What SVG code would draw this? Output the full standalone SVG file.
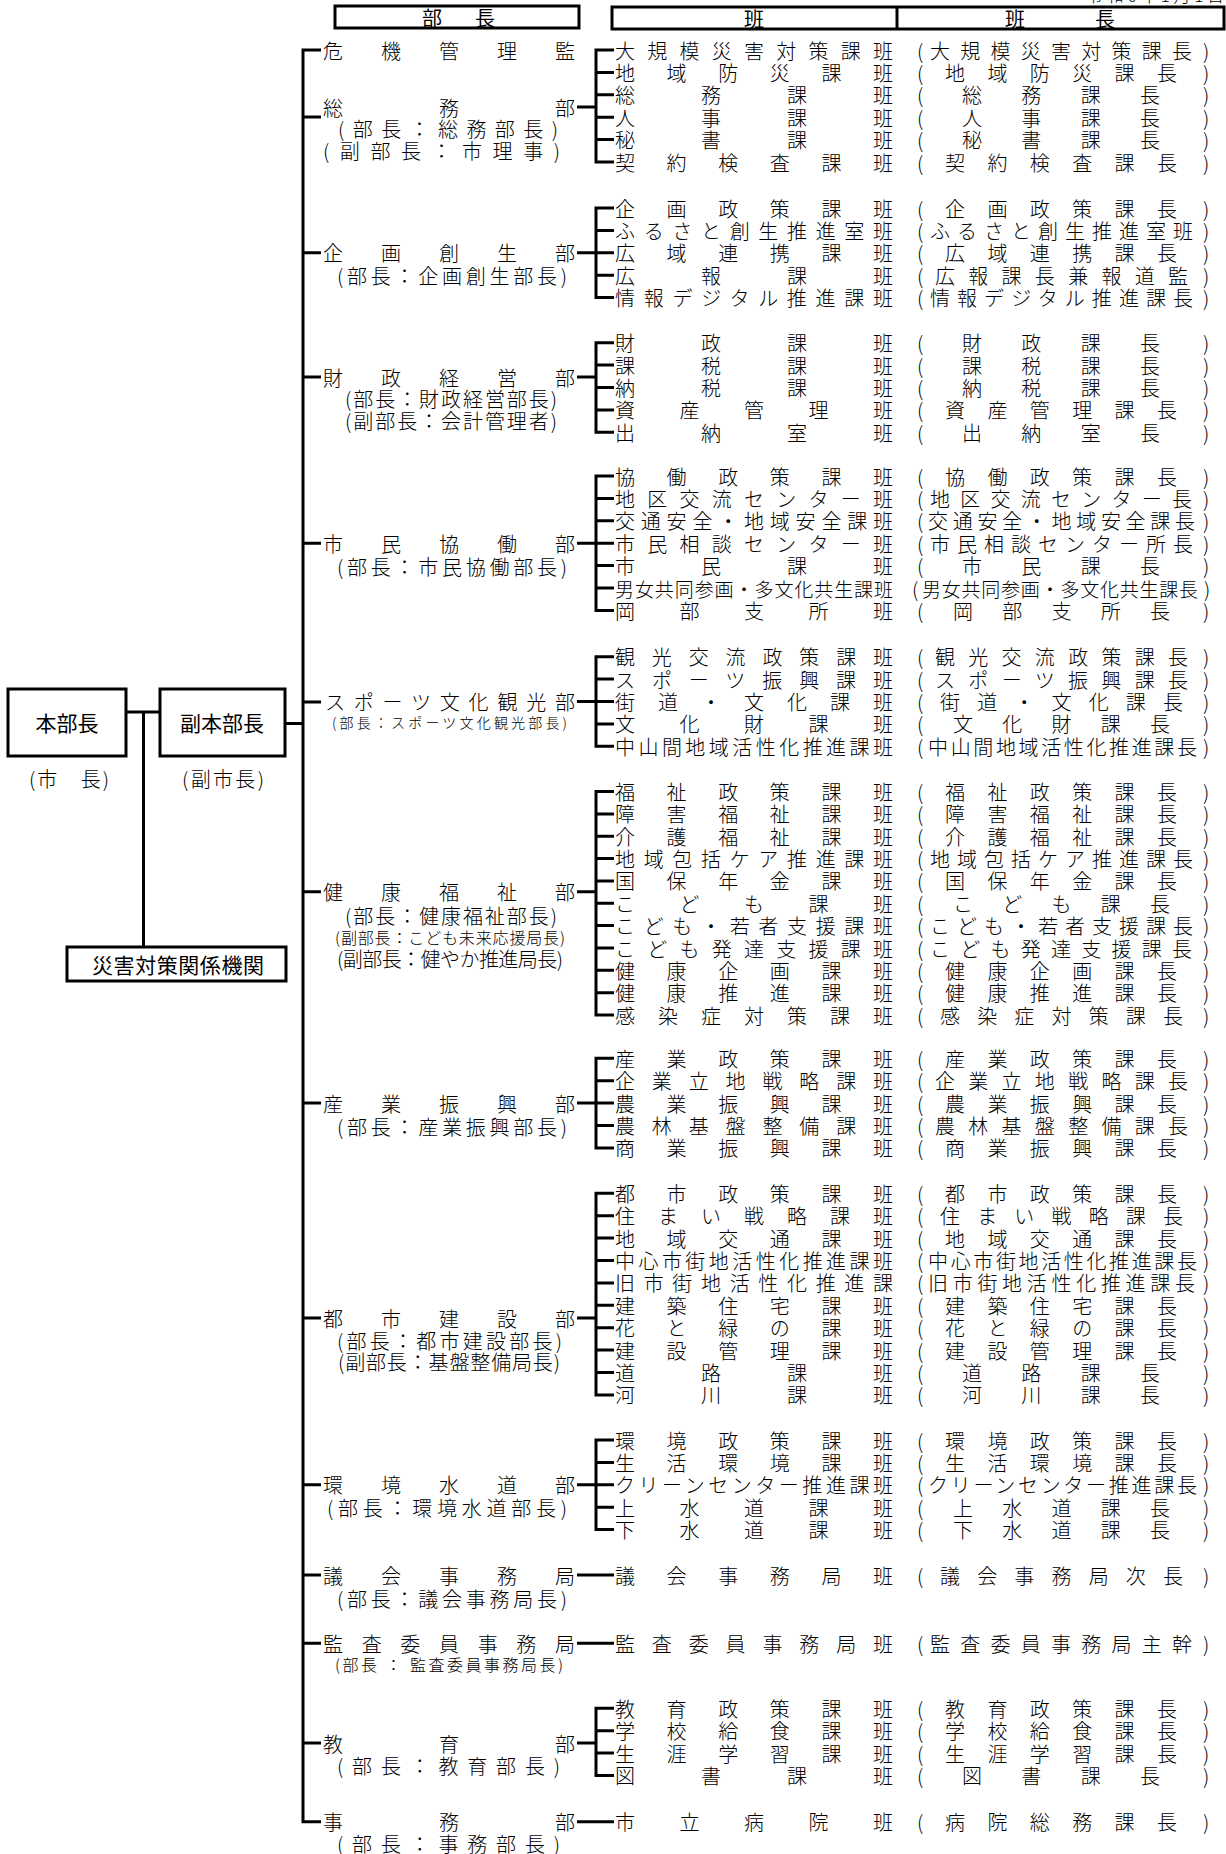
<svg xmlns="http://www.w3.org/2000/svg" width="1226" height="1854" viewBox="0 0 1226 1854">
<style>
text{font-family:"Noto Sans CJK JP","Noto Sans CJK SC",sans-serif;font-size:20px;font-weight:300;fill:#000;dominant-baseline:central}
.hd{font-weight:400}
.sm{font-size:14px}
.md{font-size:16px}
.lg{font-size:21px;font-weight:400}
.dt{font-size:17px;dominant-baseline:auto}
.ln{fill:none;stroke:#000;stroke-width:3}
.box{fill:#fff;stroke:#000;stroke-width:3}
</style>
<rect width="1226" height="1854" fill="#fff"/>
<text class="dt" x="1086" y="2" textLength="138">令和6年1月1日</text>

<g id="header">
<rect class="box" x="335" y="6" width="244" height="22"/>
<text class="hd" x="422" y="17" textLength="73">部長</text>
<rect class="box" x="612" y="7" width="612" height="22"/>
<line class="ln" x1="897" y1="7" x2="897" y2="29"/>
<text class="hd" x="754" y="18" text-anchor="middle">班</text>
<text class="hd" x="1005" y="18" textLength="110">班長</text>
</g>

<g id="honbucho">
<rect class="box" x="8" y="689" width="118" height="67"/>
<text class="lg" x="67" y="722" text-anchor="middle">本部長</text>
<text x="29" y="778" textLength="80">(市　長)</text>
</g>
<g id="fukuhonbucho">
<rect class="box" x="160" y="689" width="125" height="67"/>
<text class="lg" x="222" y="722" text-anchor="middle">副本部長</text>
<text x="182" y="778" textLength="82">(副市長)</text>
</g>
<g id="kankei">
<rect class="box" x="67" y="947" width="219" height="34"/>
<text class="lg" x="92" y="964" textLength="172">災害対策関係機関</text>
</g>

<g id="connectors">
<path class="ln" d="M126,712 H160 M143.5,712 V947 M285,723.5 H303"/>
<path class="ln" d="M321,50 H303 V1821.7 H321 M303,117 H321 M303,252.8 H321 M303,377 H321 M303,543.2 H321 M303,702 H321 M303,891.7 H321 M303,1103.1 H321 M303,1318 H321 M303,1484.8 H321 M303,1575 H321 M303,1643.3 H321 M303,1743 H321"/>
<path class="ln" d="M614,50 H596 V162 H614 M596,72.4 H614 M596,94.8 H614 M596,117.2 H614 M596,139.6 H614 M577,107 H596"/>
<path class="ln" d="M614,208 H596 V297.6 H614 M596,230.4 H614 M596,252.8 H614 M596,275.2 H614 M577,252.8 H596"/>
<path class="ln" d="M614,342.7 H596 V432.3 H614 M596,365.1 H614 M596,387.5 H614 M596,409.9 H614 M577,377 H596"/>
<path class="ln" d="M614,476 H596 V610.4 H614 M596,498.4 H614 M596,520.8 H614 M596,543.2 H614 M596,565.6 H614 M596,588 H614 M577,543.2 H596"/>
<path class="ln" d="M614,656.7 H596 V746.3 H614 M596,679.1 H614 M596,701.5 H614 M596,723.9 H614 M577,701.5 H596"/>
<path class="ln" d="M614,791.5 H596 V1015 H614 M596,813.9 H614 M596,836.2 H614 M596,858.6 H614 M596,880.9 H614 M596,903.3 H614 M596,925.6 H614 M596,948 H614 M596,970.3 H614 M596,992.7 H614 M577,891.7 H596"/>
<path class="ln" d="M614,1058.3 H596 V1147.9 H614 M596,1080.7 H614 M596,1103.1 H614 M596,1125.5 H614 M577,1103.1 H596"/>
<path class="ln" d="M614,1193.3 H596 V1394.9 H614 M596,1215.7 H614 M596,1238.1 H614 M596,1260.5 H614 M596,1282.9 H614 M596,1305.3 H614 M596,1327.7 H614 M596,1350.1 H614 M596,1372.5 H614 M577,1318 H596"/>
<path class="ln" d="M614,1440 H596 V1529.6 H614 M596,1462.4 H614 M596,1484.8 H614 M596,1507.2 H614 M577,1484.8 H596"/>
<path class="ln" d="M577,1575 H614 M577,1643.3 H614 M577,1821.7 H614"/>
<path class="ln" d="M614,1708.3 H596 V1775.5 H614 M596,1730.7 H614 M596,1753.1 H614 M577,1743 H596"/>
</g>

<g id="depts">
<g id="d-kiki"><text x="323" y="50" textLength="252">危機管理監</text></g>
<g id="d-somu"><text x="323" y="107" textLength="252">総務部</text>
<text x="338" y="128" textLength="220">(部長：総務部長)</text>
<text x="323" y="150" textLength="237">(副部長：市理事)</text></g>
<g id="d-kikaku"><text x="323" y="252.8" textLength="252">企画創生部</text>
<text x="337" y="275" textLength="230">(部長：企画創生部長)</text></g>
<g id="d-zaisei"><text x="323" y="377" textLength="252">財政経営部</text>
<text x="345" y="398" textLength="212">(部長：財政経営部長)</text>
<text x="345" y="420" textLength="212">(副部長：会計管理者)</text></g>
<g id="d-shimin"><text x="323" y="543.2" textLength="252">市民協働部</text>
<text x="337" y="566" textLength="230">(部長：市民協働部長)</text></g>
<g id="d-sports"><text x="325" y="701.5" textLength="250">スポーツ文化観光部</text>
<text class="sm" x="332" y="722" textLength="235">(部長：スポーツ文化観光部長)</text></g>
<g id="d-kenko"><text x="323" y="891.7" textLength="252">健康福祉部</text>
<text x="345" y="915" textLength="212">(部長：健康福祉部長)</text>
<text class="md" x="335" y="936.7" textLength="230">(副部長：こども未来応援局長)</text>
<text x="337" y="958.3" textLength="226">(副部長：健やか推進局長)</text></g>
<g id="d-sangyo"><text x="323" y="1103.1" textLength="252">産業振興部</text>
<text x="337" y="1126" textLength="230">(部長：産業振興部長)</text></g>
<g id="d-toshi"><text x="323" y="1318" textLength="252">都市建設部</text>
<text x="337" y="1340" textLength="225">(部長：都市建設部長)</text>
<text x="338" y="1361.7" textLength="222">(副部長：基盤整備局長)</text></g>
<g id="d-kankyo"><text x="323" y="1484.8" textLength="252">環境水道部</text>
<text x="327" y="1507.5" textLength="240">(部長：環境水道部長)</text></g>
<g id="d-gikai"><text x="323" y="1575" textLength="252">議会事務局</text>
<text x="337" y="1598" textLength="230">(部長：議会事務局長)</text></g>
<g id="d-kansa"><text x="323" y="1643.3" textLength="252">監査委員事務局</text>
<text class="md" x="335" y="1663.5" textLength="228">(部長 ： 監査委員事務局長)</text></g>
<g id="d-kyoiku"><text x="323" y="1743" textLength="252">教育部</text>
<text x="337" y="1765" textLength="223">(部長：教育部長)</text></g>
<g id="d-jimu"><text x="323" y="1821.7" textLength="252">事務部</text>
<text x="337" y="1843.3" textLength="223">(部長：事務部長)</text></g>
</g>

<g id="teams">
<g id="r1"><text x="615" y="50" textLength="278">大規模災害対策課班</text><text x="917" y="50">(</text><text x="930" y="50" textLength="262">大規模災害対策課長</text><text x="1203" y="50">)</text></g>
<g id="r2"><text x="615" y="72.4" textLength="278">地域防災課班</text><text x="917" y="72.4">(</text><text x="945" y="72.4" textLength="232">地域防災課長</text><text x="1203" y="72.4">)</text></g>
<g id="r3"><text x="615" y="94.8" textLength="278">総務課班</text><text x="917" y="94.8">(</text><text x="962" y="94.8" textLength="198">総務課長</text><text x="1203" y="94.8">)</text></g>
<g id="r4"><text x="615" y="117.2" textLength="278">人事課班</text><text x="917" y="117.2">(</text><text x="962" y="117.2" textLength="198">人事課長</text><text x="1203" y="117.2">)</text></g>
<g id="r5"><text x="615" y="139.6" textLength="278">秘書課班</text><text x="917" y="139.6">(</text><text x="962" y="139.6" textLength="198">秘書課長</text><text x="1203" y="139.6">)</text></g>
<g id="r6"><text x="615" y="162" textLength="278">契約検査課班</text><text x="917" y="162">(</text><text x="945" y="162" textLength="232">契約検査課長</text><text x="1203" y="162">)</text></g>

<g id="r7"><text x="615" y="208" textLength="278">企画政策課班</text><text x="917" y="208">(</text><text x="945" y="208" textLength="232">企画政策課長</text><text x="1203" y="208">)</text></g>
<g id="r8"><text x="615" y="230.4" textLength="278">ふるさと創生推進室班</text><text x="917" y="230.4">(</text><text x="930" y="230.4" textLength="263">ふるさと創生推進室班</text><text x="1203" y="230.4">)</text></g>
<g id="r9"><text x="615" y="252.8" textLength="278">広域連携課班</text><text x="917" y="252.8">(</text><text x="945" y="252.8" textLength="232">広域連携課長</text><text x="1203" y="252.8">)</text></g>
<g id="r10"><text x="615" y="275.2" textLength="278">広報課班</text><text x="917" y="275.2">(</text><text x="935" y="275.2" textLength="253">広報課長兼報道監</text><text x="1203" y="275.2">)</text></g>
<g id="r11"><text x="615" y="297.6" textLength="278">情報デジタル推進課班</text><text x="917" y="297.6">(</text><text x="930" y="297.6" textLength="263">情報デジタル推進課長</text><text x="1203" y="297.6">)</text></g>

<g id="r12"><text x="615" y="342.7" textLength="278">財政課班</text><text x="917" y="342.7">(</text><text x="962" y="342.7" textLength="198">財政課長</text><text x="1203" y="342.7">)</text></g>
<g id="r13"><text x="615" y="365.1" textLength="278">課税課班</text><text x="917" y="365.1">(</text><text x="962" y="365.1" textLength="198">課税課長</text><text x="1203" y="365.1">)</text></g>
<g id="r14"><text x="615" y="387.5" textLength="278">納税課班</text><text x="917" y="387.5">(</text><text x="962" y="387.5" textLength="198">納税課長</text><text x="1203" y="387.5">)</text></g>
<g id="r15"><text x="615" y="409.9" textLength="278">資産管理班</text><text x="917" y="409.9">(</text><text x="945" y="409.9" textLength="232">資産管理課長</text><text x="1203" y="409.9">)</text></g>
<g id="r16"><text x="615" y="432.3" textLength="278">出納室班</text><text x="917" y="432.3">(</text><text x="962" y="432.3" textLength="198">出納室長</text><text x="1203" y="432.3">)</text></g>

<g id="r17"><text x="615" y="476" textLength="278">協働政策課班</text><text x="917" y="476">(</text><text x="945" y="476" textLength="232">協働政策課長</text><text x="1203" y="476">)</text></g>
<g id="r18"><text x="615" y="498.4" textLength="278">地区交流センター班</text><text x="917" y="498.4">(</text><text x="930" y="498.4" textLength="262">地区交流センター長</text><text x="1203" y="498.4">)</text></g>
<g id="r19"><text x="615" y="520.8" textLength="278">交通安全・地域安全課班</text><text x="917" y="520.8">(</text><text x="928" y="520.8" textLength="267">交通安全・地域安全課長</text><text x="1203" y="520.8">)</text></g>
<g id="r20"><text x="615" y="543.2" textLength="278">市民相談センター班</text><text x="917" y="543.2">(</text><text x="930" y="543.2" textLength="263">市民相談センター所長</text><text x="1203" y="543.2">)</text></g>
<g id="r21"><text x="615" y="565.6" textLength="278">市民課班</text><text x="917" y="565.6">(</text><text x="962" y="565.6" textLength="198">市民課長</text><text x="1203" y="565.6">)</text></g>
<g id="r22"><text x="615" y="588" textLength="278" style="font-size:19px">男女共同参画・多文化共生課班</text><text x="912" y="588">(</text><text x="922" y="588" textLength="276" style="font-size:19px">男女共同参画・多文化共生課長</text><text x="1204" y="588">)</text></g>
<g id="r23"><text x="615" y="610.4" textLength="278">岡部支所班</text><text x="917" y="610.4">(</text><text x="953" y="610.4" textLength="217">岡部支所長</text><text x="1203" y="610.4">)</text></g>

<g id="r24"><text x="615" y="656.7" textLength="278">観光交流政策課班</text><text x="917" y="656.7">(</text><text x="935" y="656.7" textLength="253">観光交流政策課長</text><text x="1203" y="656.7">)</text></g>
<g id="r25"><text x="615" y="679.1" textLength="278">スポーツ振興課班</text><text x="917" y="679.1">(</text><text x="935" y="679.1" textLength="253">スポーツ振興課長</text><text x="1203" y="679.1">)</text></g>
<g id="r26"><text x="615" y="701.5" textLength="278">街道・文化課班</text><text x="917" y="701.5">(</text><text x="940" y="701.5" textLength="243">街道・文化課長</text><text x="1203" y="701.5">)</text></g>
<g id="r27"><text x="615" y="723.9" textLength="278">文化財課班</text><text x="917" y="723.9">(</text><text x="953" y="723.9" textLength="217">文化財課長</text><text x="1203" y="723.9">)</text></g>
<g id="r28"><text x="615" y="746.3" textLength="278">中山間地域活性化推進課班</text><text x="917" y="746.3">(</text><text x="928" y="746.3" textLength="269">中山間地域活性化推進課長</text><text x="1203" y="746.3">)</text></g>

<g id="r29"><text x="615" y="791.5" textLength="278">福祉政策課班</text><text x="917" y="791.5">(</text><text x="945" y="791.5" textLength="232">福祉政策課長</text><text x="1203" y="791.5">)</text></g>
<g id="r30"><text x="615" y="813.9" textLength="278">障害福祉課班</text><text x="917" y="813.9">(</text><text x="945" y="813.9" textLength="232">障害福祉課長</text><text x="1203" y="813.9">)</text></g>
<g id="r31"><text x="615" y="836.2" textLength="278">介護福祉課班</text><text x="917" y="836.2">(</text><text x="945" y="836.2" textLength="232">介護福祉課長</text><text x="1203" y="836.2">)</text></g>
<g id="r32"><text x="615" y="858.6" textLength="278">地域包括ケア推進課班</text><text x="917" y="858.6">(</text><text x="930" y="858.6" textLength="263">地域包括ケア推進課長</text><text x="1203" y="858.6">)</text></g>
<g id="r33"><text x="615" y="880.9" textLength="278">国保年金課班</text><text x="917" y="880.9">(</text><text x="945" y="880.9" textLength="232">国保年金課長</text><text x="1203" y="880.9">)</text></g>
<g id="r34"><text x="615" y="903.3" textLength="278">こども課班</text><text x="917" y="903.3">(</text><text x="953" y="903.3" textLength="217">こども課長</text><text x="1203" y="903.3">)</text></g>
<g id="r35"><text x="615" y="925.6" textLength="278">こども・若者支援課班</text><text x="917" y="925.6">(</text><text x="930" y="925.6" textLength="263">こども・若者支援課長</text><text x="1203" y="925.6">)</text></g>
<g id="r36"><text x="615" y="948" textLength="278">こども発達支援課班</text><text x="917" y="948">(</text><text x="930" y="948" textLength="262">こども発達支援課長</text><text x="1203" y="948">)</text></g>
<g id="r37"><text x="615" y="970.3" textLength="278">健康企画課班</text><text x="917" y="970.3">(</text><text x="945" y="970.3" textLength="232">健康企画課長</text><text x="1203" y="970.3">)</text></g>
<g id="r38"><text x="615" y="992.7" textLength="278">健康推進課班</text><text x="917" y="992.7">(</text><text x="945" y="992.7" textLength="232">健康推進課長</text><text x="1203" y="992.7">)</text></g>
<g id="r39"><text x="615" y="1015" textLength="278">感染症対策課班</text><text x="917" y="1015">(</text><text x="940" y="1015" textLength="243">感染症対策課長</text><text x="1203" y="1015">)</text></g>

<g id="r40"><text x="615" y="1058.3" textLength="278">産業政策課班</text><text x="917" y="1058.3">(</text><text x="945" y="1058.3" textLength="232">産業政策課長</text><text x="1203" y="1058.3">)</text></g>
<g id="r41"><text x="615" y="1080.7" textLength="278">企業立地戦略課班</text><text x="917" y="1080.7">(</text><text x="935" y="1080.7" textLength="253">企業立地戦略課長</text><text x="1203" y="1080.7">)</text></g>
<g id="r42"><text x="615" y="1103.1" textLength="278">農業振興課班</text><text x="917" y="1103.1">(</text><text x="945" y="1103.1" textLength="232">農業振興課長</text><text x="1203" y="1103.1">)</text></g>
<g id="r43"><text x="615" y="1125.5" textLength="278">農林基盤整備課班</text><text x="917" y="1125.5">(</text><text x="935" y="1125.5" textLength="253">農林基盤整備課長</text><text x="1203" y="1125.5">)</text></g>
<g id="r44"><text x="615" y="1147.9" textLength="278">商業振興課班</text><text x="917" y="1147.9">(</text><text x="945" y="1147.9" textLength="232">商業振興課長</text><text x="1203" y="1147.9">)</text></g>

<g id="r45"><text x="615" y="1193.3" textLength="278">都市政策課班</text><text x="917" y="1193.3">(</text><text x="945" y="1193.3" textLength="232">都市政策課長</text><text x="1203" y="1193.3">)</text></g>
<g id="r46"><text x="615" y="1215.7" textLength="278">住まい戦略課班</text><text x="917" y="1215.7">(</text><text x="940" y="1215.7" textLength="243">住まい戦略課長</text><text x="1203" y="1215.7">)</text></g>
<g id="r47"><text x="615" y="1238.1" textLength="278">地域交通課班</text><text x="917" y="1238.1">(</text><text x="945" y="1238.1" textLength="232">地域交通課長</text><text x="1203" y="1238.1">)</text></g>
<g id="r48"><text x="615" y="1260.5" textLength="278">中心市街地活性化推進課班</text><text x="917" y="1260.5">(</text><text x="928" y="1260.5" textLength="269">中心市街地活性化推進課長</text><text x="1203" y="1260.5">)</text></g>
<g id="r49"><text x="615" y="1282.9" textLength="278">旧市街地活性化推進課</text><text x="917" y="1282.9">(</text><text x="928" y="1282.9" textLength="267">旧市街地活性化推進課長</text><text x="1203" y="1282.9">)</text></g>
<g id="r50"><text x="615" y="1305.3" textLength="278">建築住宅課班</text><text x="917" y="1305.3">(</text><text x="945" y="1305.3" textLength="232">建築住宅課長</text><text x="1203" y="1305.3">)</text></g>
<g id="r51"><text x="615" y="1327.7" textLength="278">花と緑の課班</text><text x="917" y="1327.7">(</text><text x="945" y="1327.7" textLength="232">花と緑の課長</text><text x="1203" y="1327.7">)</text></g>
<g id="r52"><text x="615" y="1350.1" textLength="278">建設管理課班</text><text x="917" y="1350.1">(</text><text x="945" y="1350.1" textLength="232">建設管理課長</text><text x="1203" y="1350.1">)</text></g>
<g id="r53"><text x="615" y="1372.5" textLength="278">道路課班</text><text x="917" y="1372.5">(</text><text x="962" y="1372.5" textLength="198">道路課長</text><text x="1203" y="1372.5">)</text></g>
<g id="r54"><text x="615" y="1394.9" textLength="278">河川課班</text><text x="917" y="1394.9">(</text><text x="962" y="1394.9" textLength="198">河川課長</text><text x="1203" y="1394.9">)</text></g>

<g id="r55"><text x="615" y="1440" textLength="278">環境政策課班</text><text x="917" y="1440">(</text><text x="945" y="1440" textLength="232">環境政策課長</text><text x="1203" y="1440">)</text></g>
<g id="r56"><text x="615" y="1462.4" textLength="278">生活環境課班</text><text x="917" y="1462.4">(</text><text x="945" y="1462.4" textLength="232">生活環境課長</text><text x="1203" y="1462.4">)</text></g>
<g id="r57"><text x="615" y="1484.8" textLength="278">クリーンセンター推進課班</text><text x="917" y="1484.8">(</text><text x="928" y="1484.8" textLength="269">クリーンセンター推進課長</text><text x="1203" y="1484.8">)</text></g>
<g id="r58"><text x="615" y="1507.2" textLength="278">上水道課班</text><text x="917" y="1507.2">(</text><text x="953" y="1507.2" textLength="217">上水道課長</text><text x="1203" y="1507.2">)</text></g>
<g id="r59"><text x="615" y="1529.6" textLength="278">下水道課班</text><text x="917" y="1529.6">(</text><text x="953" y="1529.6" textLength="217">下水道課長</text><text x="1203" y="1529.6">)</text></g>

<g id="r60"><text x="615" y="1575" textLength="278">議会事務局班</text><text x="917" y="1575">(</text><text x="940" y="1575" textLength="243">議会事務局次長</text><text x="1203" y="1575">)</text></g>
<g id="r61"><text x="615" y="1643.3" textLength="278">監査委員事務局班</text><text x="917" y="1643.3">(</text><text x="930" y="1643.3" textLength="262">監査委員事務局主幹</text><text x="1203" y="1643.3">)</text></g>

<g id="r62"><text x="615" y="1708.3" textLength="278">教育政策課班</text><text x="917" y="1708.3">(</text><text x="945" y="1708.3" textLength="232">教育政策課長</text><text x="1203" y="1708.3">)</text></g>
<g id="r63"><text x="615" y="1730.7" textLength="278">学校給食課班</text><text x="917" y="1730.7">(</text><text x="945" y="1730.7" textLength="232">学校給食課長</text><text x="1203" y="1730.7">)</text></g>
<g id="r64"><text x="615" y="1753.1" textLength="278">生涯学習課班</text><text x="917" y="1753.1">(</text><text x="945" y="1753.1" textLength="232">生涯学習課長</text><text x="1203" y="1753.1">)</text></g>
<g id="r65"><text x="615" y="1775.5" textLength="278">図書課班</text><text x="917" y="1775.5">(</text><text x="962" y="1775.5" textLength="198">図書課長</text><text x="1203" y="1775.5">)</text></g>

<g id="r66"><text x="615" y="1821.7" textLength="278">市立病院班</text><text x="917" y="1821.7">(</text><text x="945" y="1821.7" textLength="232">病院総務課長</text><text x="1203" y="1821.7">)</text></g>
</g>
</svg>
